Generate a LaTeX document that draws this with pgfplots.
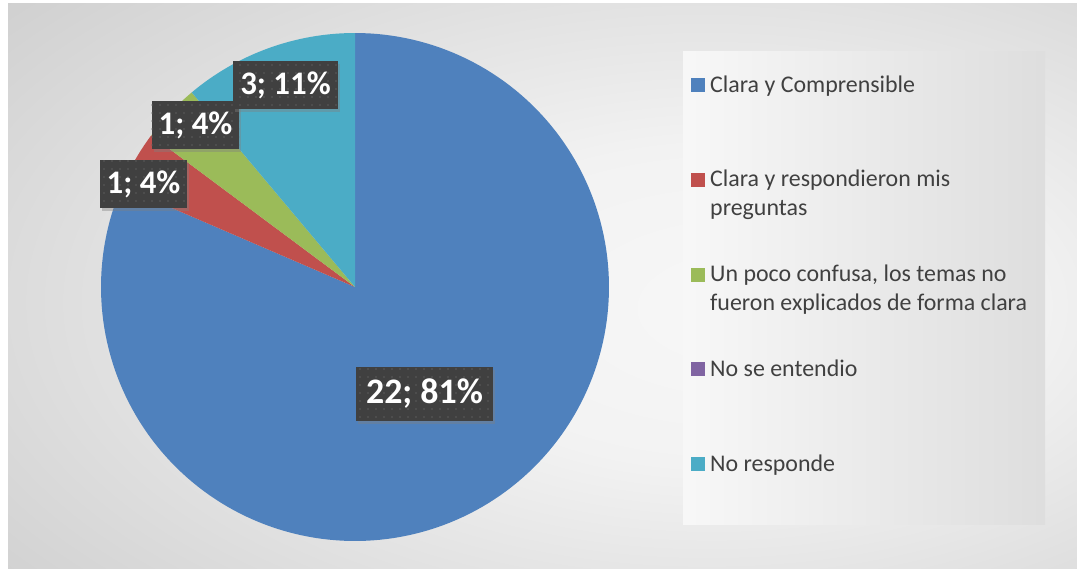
\documentclass[border=0pt]{standalone}
\usepackage{fontspec}
\setmainfont{Carlito}
\usepackage{pgfplots}
\pgfplotsset{compat=1.18}
\usepackage{pgfplotstable}
\usetikzlibrary{shadows,patterns.meta}

\definecolor{cBlue}{HTML}{4F81BD}
\definecolor{cRed}{HTML}{C0504D}
\definecolor{cGreen}{HTML}{9BBB59}
\definecolor{cPurple}{HTML}{8064A2}
\definecolor{cCyan}{HTML}{4BACC6}
\definecolor{lblbg}{HTML}{404040}
\definecolor{txt}{HTML}{404040}

\pgfplotstableread{
slice value
0 22
1 1
2 1
3 0
4 3
}\piedata
\pgfplotstablegetelem{0}{value}\of\piedata \edef\vA{\pgfplotsretval}
\pgfplotstablegetelem{1}{value}\of\piedata \edef\vB{\pgfplotsretval}
\pgfplotstablegetelem{2}{value}\of\piedata \edef\vC{\pgfplotsretval}
\pgfplotstablegetelem{3}{value}\of\piedata \edef\vD{\pgfplotsretval}
\pgfplotstablegetelem{4}{value}\of\piedata \edef\vE{\pgfplotsretval}
\pgfmathsetmacro\tot{\vA+\vB+\vC+\vD+\vE}
\pgfmathsetmacro\aA{90}
\pgfmathsetmacro\aB{\aA-360*\vA/\tot}
\pgfmathsetmacro\aC{\aB-360*\vB/\tot}
\pgfmathsetmacro\aD{\aC-360*\vC/\tot}
\pgfmathsetmacro\aE{\aD-360*\vD/\tot}
\pgfmathsetmacro\aF{\aE-360*\vE/\tot}

\def\cx{355}\def\cy{282}\def\rr{254}

\pgfdeclareradialshading{bgshade}{\pgfpoint{10bp}{-2bp}}{color(0bp)=(white!97!black); color(14bp)=(white!95!black); color(46bp)=(white!79!black); color(100bp)=(white!78!black)}

\newcommand\legendfont{\fontsize{24}{29}\selectfont}
\newcommand\lblfont{\bfseries\fontsize{33}{40}\selectfont}
\newcommand\biglblfont{\bfseries\fontsize{36}{44}\selectfont}
\newcommand\lent[1]{\parbox[t]{330bp}{\raggedright\strut #1}}

\tikzset{dlabel/.style={fill=lblbg, text=white, font=\lblfont, inner xsep=7bp, inner ysep=0bp,
  minimum height=48bp,
  drop shadow={shadow xshift=2bp, shadow yshift=-3bp, opacity=0.4},
  postaction={pattern={Dots[radius=0.9bp, distance=8bp]}, pattern color=white!14!lblbg}}}

\begin{document}
\begin{tikzpicture}
\fill[white] (0,0) rectangle (1077bp,569bp);
\shade[shading=bgshade] (8bp,0bp) rectangle (1077bp,565bp);
\shade[left color=white!97!black, right color=white!87!black] (683bp,44bp) rectangle (1045bp,517bp);
\begin{axis}[
  x=1bp, y=1bp, xmin=0, xmax=1077, ymin=0, ymax=569,
  at={(0,0)}, anchor=south west,
  hide axis, clip=false,
  legend cell align=left,
  legend image code/.code={\fill[#1] (0bp,0bp) rectangle (14bp,14bp);},
  legend style={at={(axis cs:691,497.3)}, anchor=north west, draw=none, fill=none,
    inner sep=0pt, row sep=74.4bp, font=\legendfont, text=txt,
    cells={anchor=base west}, nodes={inner sep=0pt, text height=20.3bp, text depth=0pt},
    /tikz/every odd column/.append style={column sep=5bp}},
]
\addplot[fill=cBlue, draw=none, domain=\aB:\aA, samples=181]
  ({\cx+\rr*cos(x)},{\cy+\rr*sin(x)}) -- (axis cs:\cx,\cy) -- cycle;
\addlegendentry{\lent{Clara y Comprensible}}
\addplot[fill=cRed, draw=none, domain=\aC:\aB, samples=20]
  ({\cx+\rr*cos(x)},{\cy+\rr*sin(x)}) -- (axis cs:\cx,\cy) -- cycle;
\addlegendentry{\lent{Clara y respondieron mis\\preguntas}}
\addplot[fill=cGreen, draw=none, domain=\aD:\aC, samples=20]
  ({\cx+\rr*cos(x)},{\cy+\rr*sin(x)}) -- (axis cs:\cx,\cy) -- cycle;
\addlegendentry{\lent{Un poco confusa, los temas no\\fueron explicados de forma clara}}
\addlegendimage{fill=cPurple, draw=none}
\addlegendentry{\lent{No se entendio}}
\addplot[fill=cCyan, draw=none, domain=\aF:\aE, samples=40]
  ({\cx+\rr*cos(x)},{\cy+\rr*sin(x)}) -- (axis cs:\cx,\cy) -- cycle;
\addlegendentry{\lent{No responde}}

\node[dlabel, font=\biglblfont, minimum height=54bp, inner xsep=10bp] at (axis cs:424.5,175) {22; 81\%};
\node[dlabel] at (axis cs:143.5,385) {1; 4\%};
\node[dlabel] at (axis cs:195.5,444) {1; 4\%};
\node[dlabel] at (axis cs:285.5,484) {3; 11\%};
\end{axis}
\end{tikzpicture}
\end{document}
